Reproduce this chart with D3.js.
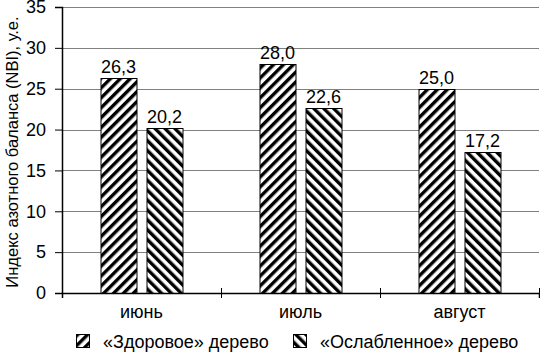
<!DOCTYPE html>
<html>
<head>
<meta charset="utf-8">
<script src="https://cdn.jsdelivr.net/npm/d3@7"></script>
<style>
  body { margin: 0; background: #fff; }
  text { font-family: "Liberation Sans", Arial, sans-serif; fill: #000; }
</style>
</head>
<body>
<div id="chart"></div>
<script>
// data
var months = ["июнь", "июль", "август"];
var seriesNames = ["«Здоровое» дерево", "«Ослабленное» дерево"];
var healthy = [26.3, 28.0, 25.0];
var weakened = [20.2, 22.6, 17.2];
var yTicks = [0, 5, 10, 15, 20, 25, 30, 35];

var margin = {top: 7, right: 1, bottom: 63, left: 62},
    width = 540 - margin.left - margin.right,
    height = 356 - margin.top - margin.bottom;

var svg = d3.select("#chart")
  .append("svg")
    .attr("width", 540)
    .attr("height", 356);

// hatch patterns
var defs = svg.append("defs");
function hatch(id, angle) {
  var p = defs.append("pattern")
    .attr("id", id)
    .attr("patternUnits", "userSpaceOnUse")
    .attr("width", 7)
    .attr("height", 7)
    .attr("patternTransform", "rotate(" + angle + ")");
  p.append("rect").attr("width", 7).attr("height", 7).attr("fill", "#fff");
  p.append("rect").attr("x", 0).attr("width", 3.4).attr("height", 7).attr("fill", "#000");
}
hatch("hatchFwd", 45);
hatch("hatchBack", -45);
var fills = ["url(#hatchFwd)", "url(#hatchBack)"];

var g = svg.append("g")
  .attr("transform", "translate(" + margin.left + "," + margin.top + ")");

var x = d3.scaleBand().domain(months).range([0, width]);
var y = d3.scaleLinear().domain([0, 35]).range([height, 0]);

// gridlines
g.selectAll("line.grid")
  .data(yTicks.slice(1))
  .enter().append("line")
    .attr("class", "grid")
    .attr("x1", 0).attr("x2", width)
    .attr("y1", function(d) { return Math.round(y(d)) + 0.5; })
    .attr("y2", function(d) { return Math.round(y(d)) + 0.5; })
    .attr("stroke", "#808080")
    .attr("stroke-width", 1);

// bars
var barW = 36, gap = 10;
var rows = months.map(function(m, i) { return {month: m, vals: [healthy[i], weakened[i]]}; });

var groups = g.selectAll("g.grp")
  .data(rows)
  .enter().append("g")
    .attr("class", "grp")
    .attr("transform", function(d) {
      return "translate(" + (x(d.month) + x.bandwidth() / 2 - barW - gap / 2) + ",0)";
    });

groups.selectAll("rect")
  .data(function(d) { return d.vals; })
  .enter().append("rect")
    .attr("x", function(d, j) { return Math.round(j * (barW + gap)) + 0.5; })
    .attr("y", function(d) { return Math.round(y(d)) + 0.5; })
    .attr("width", barW)
    .attr("height", function(d) { return height - Math.round(y(d)); })
    .attr("fill", function(d, j) { return fills[j]; })
    .attr("stroke", "#000")
    .attr("stroke-width", 1);

groups.selectAll("text")
  .data(function(d) { return d.vals; })
  .enter().append("text")
    .attr("x", function(d, j) { return j * (barW + gap) + barW / 2; })
    .attr("y", function(d) { return y(d) - 5; })
    .attr("text-anchor", "middle")
    .style("font-size", "18px")
    .text(function(d) { return d.toFixed(1).replace(".", ","); });

// y axis
var yAxis = g.append("g")
  .call(d3.axisLeft(y).tickValues(yTicks).tickSize(7).tickPadding(9).tickFormat(d3.format("d")));
yAxis.select(".domain").attr("stroke", "#000").attr("stroke-width", 1.5);
yAxis.selectAll(".tick line").attr("stroke", "#000");
yAxis.selectAll(".tick text").style("font-size", "18px").attr("font-family", null);

// x axis
var xAxis = g.append("g")
  .attr("transform", "translate(0," + height + ")")
  .call(d3.axisBottom(d3.scaleLinear().domain([0, 3]).range([0, width]))
    .tickValues([0, 1, 2, 3]).tickSize(5).tickFormat(""));
xAxis.select(".domain").attr("stroke", "#000").attr("stroke-width", 1.5);
xAxis.selectAll(".tick line").attr("stroke", "#000").attr("y1", -5);

g.selectAll("text.cat")
  .data(months)
  .enter().append("text")
    .attr("class", "cat")
    .attr("x", function(d) { return x(d) + x.bandwidth() / 2; })
    .attr("y", height + 25)
    .attr("text-anchor", "middle")
    .style("font-size", "18px")
    .text(function(d) { return d; });

// y title
svg.append("text")
  .attr("transform", "translate(18," + (margin.top + height / 2 + 2) + ") rotate(-90)")
  .attr("text-anchor", "middle")
  .style("font-size", "16.5px")
  .text("Индекс азотного баланса (NBI), у.е.");

// legend
var legX = [76, 293];
var leg = svg.selectAll("g.leg")
  .data(seriesNames)
  .enter().append("g")
    .attr("class", "leg")
    .attr("transform", function(d, i) { return "translate(" + legX[i] + ",334)"; });
leg.append("rect")
  .attr("x", 0.5).attr("y", 0.5)
  .attr("width", 13).attr("height", 13)
  .attr("fill", function(d, i) { return fills[i]; })
  .attr("stroke", "#000");
leg.append("text")
  .attr("x", 27)
  .attr("y", 14)
  .style("font-size", "18px")
  .text(function(d) { return d; });
</script>
</body>
</html>
